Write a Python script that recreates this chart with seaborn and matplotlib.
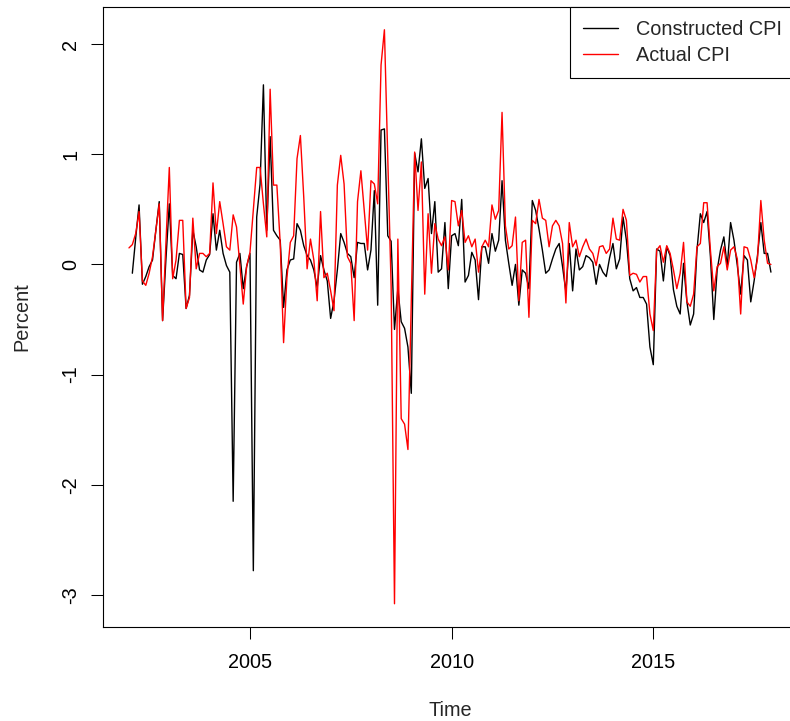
import numpy as np
import pandas as pd
import matplotlib
matplotlib.use("Agg")
import matplotlib.pyplot as plt
import seaborn as sns

# ---------------- data (monthly, % change) ----------------
actual_start = (2002, 1)        # Jan 2002
constructed_start = (2002, 2)   # Feb 2002

actual_cpi = [
    0.15, 0.18, 0.28, 0.48, -0.15, -0.19, -0.08, 0.07, 0.31, 0.55, -0.51, 0.20,
    0.88, -0.13, 0.04, 0.40, 0.40, -0.40, -0.30, 0.42, -0.04, 0.10, 0.10, 0.07,
    0.10, 0.74, 0.28, 0.57, 0.37, 0.16, 0.13, 0.45, 0.34, -0.01, -0.36, -0.02,
    0.11, 0.49, 0.88, 0.88, 0.55, 0.25, 1.59, 0.72, 0.72, 0.19, -0.71, -0.12,
    0.20, 0.26, 0.96, 1.17, 0.61, -0.04, 0.23, 0.04, -0.33, 0.48, -0.12, -0.08,
    -0.24, -0.42, 0.72, 0.99, 0.73, 0.07, 0.01, -0.51, 0.57, 0.85, 0.49, 0.13,
    0.76, 0.73, 0.55, 1.81, 2.13, 0.95, -0.20, -3.08, 0.23, -1.40, -1.45, -1.68,
    -0.35, 1.02, 0.49, 0.93, -0.27, 0.46, -0.08, 0.37, 0.23, 0.17, 0.25, -0.05,
    0.58, 0.57, 0.35, 0.49, 0.20, 0.26, 0.16, 0.23, -0.07, 0.16, 0.22, 0.16,
    0.54, 0.41, 0.49, 1.38, 0.35, 0.14, 0.17, 0.43, -0.33, 0.20, 0.22, -0.48,
    0.40, 0.37, 0.59, 0.42, 0.40, 0.16, 0.35, 0.40, 0.35, 0.19, -0.35, 0.38,
    0.16, 0.22, 0.07, 0.16, 0.23, 0.14, 0.10, -0.01, 0.16, 0.17, 0.10, 0.14,
    0.42, 0.23, 0.22, 0.50, 0.40, -0.10, -0.08, -0.09, -0.16, -0.11, -0.11, -0.45,
    -0.60, 0.13, 0.17, 0.02, 0.17, 0.10, -0.05, -0.22, -0.08, 0.20, -0.34, -0.38,
    -0.27, 0.16, 0.19, 0.56, 0.56, 0.13, -0.24, -0.02, 0.01, 0.16, -0.05, 0.13,
    0.16, 0.05, -0.45, 0.16, 0.15, 0.04, -0.12, 0.05, 0.58, 0.22, 0.01, 0.00,
]

constructed_cpi = [
    -0.08, 0.24, 0.54, -0.18, -0.11, -0.02, 0.04, 0.31, 0.57, -0.51, 0.05,
    0.55, -0.10, -0.13, 0.10, 0.09, -0.40, -0.28, 0.31, 0.16, -0.05, -0.07, 0.04,
    0.09, 0.46, 0.13, 0.31, 0.10, -0.01, -0.07, -2.15, 0.02, 0.10, -0.22, -0.02,
    0.10, -2.78, 0.43, 0.73, 1.63, 0.31, 1.16, 0.31, 0.26, 0.22, -0.39, -0.05,
    0.04, 0.05, 0.37, 0.31, 0.17, 0.08, 0.04, -0.05, -0.21, 0.08, -0.05, -0.15,
    -0.49, -0.33, -0.05, 0.28, 0.20, 0.10, 0.07, -0.12, 0.20, 0.19, 0.19, -0.05,
    0.13, 0.67, -0.37, 1.22, 1.23, 0.26, 0.21, -0.59, -0.22, -0.52, -0.58, -0.75,
    -1.17, 1.01, 0.84, 1.14, 0.69, 0.78, 0.28, 0.57, -0.07, -0.04, 0.38, -0.22,
    0.26, 0.28, 0.17, 0.59, -0.16, -0.10, 0.11, 0.04, -0.32, 0.16, 0.16, 0.01,
    0.28, 0.12, 0.22, 0.76, 0.22, 0.01, -0.19, 0.00, -0.37, -0.05, -0.08, -0.22,
    0.58, 0.49, 0.32, 0.13, -0.08, -0.05, 0.05, 0.14, 0.19, -0.02, -0.25, 0.19,
    -0.24, 0.14, -0.05, -0.02, 0.08, 0.06, 0.02, -0.18, 0.00, -0.07, -0.11, 0.06,
    0.19, -0.04, 0.05, 0.43, 0.22, -0.13, -0.24, -0.21, -0.30, -0.30, -0.36, -0.75,
    -0.91, 0.14, 0.12, -0.15, 0.16, 0.08, -0.23, -0.38, -0.45, 0.01, -0.34, -0.55,
    -0.45, 0.13, 0.46, 0.38, 0.48, 0.07, -0.50, -0.05, 0.13, 0.25, -0.02, 0.38,
    0.22, -0.01, -0.27, 0.08, 0.04, -0.34, -0.15, 0.08, 0.38, 0.10, 0.10, -0.07,
]

series_names = ["Constructed CPI", "Actual CPI"]
series_colors = ["black", "red"]
x_ticks = [2005, 2010, 2015]
y_ticks = [-3, -2, -1, 0, 1, 2]
x_label = "Time"
y_label = "Percent"


def monthly_time(start, n):
    y, m = start
    return y + (m - 1) / 12.0 + np.arange(n) / 12.0


df = pd.concat([
    pd.DataFrame({"time": monthly_time(constructed_start, len(constructed_cpi)),
                  "value": constructed_cpi, "series": series_names[0]}),
    pd.DataFrame({"time": monthly_time(actual_start, len(actual_cpi)),
                  "value": actual_cpi, "series": series_names[1]}),
], ignore_index=True)

# ---------------- style ----------------
sns.set_style("white")
plt.rcParams["font.family"] = ["Liberation Sans", "DejaVu Sans"]
plt.rcParams["axes.unicode_minus"] = False
FS = 14.3

# Render on a wider canvas (the original plot region runs past the right
# edge of the image), then crop to 790 px wide.
W_OUT, W, H, DPI = 790, 840, 721, 100
fig = plt.figure(figsize=(W / DPI, H / DPI), dpi=DPI)
left_px, right_px, top_px, bottom_px = 103.3, 796.6, 6.8, 626.7
ax = fig.add_axes([left_px / W, (H - bottom_px) / H,
                   (right_px - left_px) / W, (bottom_px - top_px) / H])

sns.lineplot(data=df, x="time", y="value", hue="series",
             hue_order=series_names,
             palette=dict(zip(series_names, series_colors)),
             linewidth=1.0, estimator=None, sort=False, ax=ax, legend=True)

# R default 4% axis extension
tmin, tmax = df["time"].min(), df["time"].max()
vmin, vmax = df["value"].min(), df["value"].max()
ax.set_xlim(tmin - 0.04 * (tmax - tmin), tmax + 0.04 * (tmax - tmin))
ax.set_ylim(vmin - 0.04 * (vmax - vmin), vmax + 0.04 * (vmax - vmin))

ax.set_xticks(x_ticks)
ax.set_xticklabels([str(t) for t in x_ticks])
ax.set_yticks(y_ticks)
ax.set_yticklabels([str(t) for t in y_ticks], rotation=90, va="center")

tick_len = 12 * 72 / DPI
ax.tick_params(axis="both", direction="out", length=tick_len, width=0.75,
               color="black", labelsize=FS, labelcolor="black", pad=10,
               bottom=True, left=True)
ax.tick_params(axis="y", pad=8)

for s in ax.spines.values():
    s.set_visible(True)
    s.set_color("black")
    s.set_linewidth(0.8)

ax.set_xlabel(x_label, fontsize=FS, va="center")
ax.set_ylabel(y_label, fontsize=FS, va="center")
ax.xaxis.set_label_coords(0.5, -(710 - bottom_px) / (bottom_px - top_px))
ax.yaxis.set_label_coords(-(left_px - 21.7) / (right_px - left_px), 0.5)

handles, labels = ax.get_legend_handles_labels()
leg = ax.legend(handles, labels, loc="upper left",
                bbox_to_anchor=((570 - left_px) / (right_px - left_px), 1.0),
                borderaxespad=0, fontsize=FS, frameon=True, fancybox=False,
                edgecolor="black", framealpha=1, borderpad=0.65,
                labelspacing=0.37, handlelength=1.75, handletextpad=0.9)
leg.get_frame().set_linewidth(0.8)
for line in leg.get_lines():
    line.set_linewidth(1.0)

fig.canvas.draw()
img = np.asarray(fig.canvas.buffer_rgba())[:, :W_OUT, :].copy()
plt.imsave("out.png", img, dpi=DPI)
